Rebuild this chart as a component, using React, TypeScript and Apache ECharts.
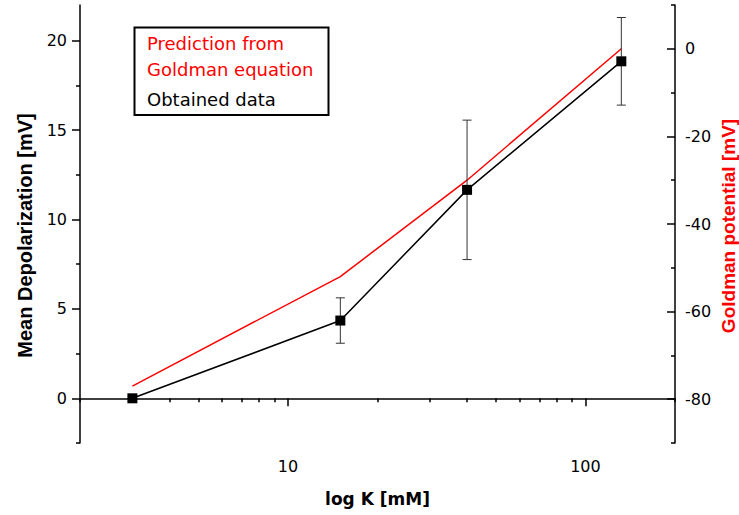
import React, { useEffect, useRef } from "react";
import * as echarts from "echarts";

// ---- data ----
const concentrations = [3, 15, 40, 132]; // K [mM]
const meanDepolarization = [0, 4.35, 11.66, 18.85]; // mV (left axis)
const depolarizationSD = [0, 1.27, 3.9, 2.45]; // mV error bars
const goldmanPotential = [-77, -52, -30, 0]; // mV (right axis)

const xMajorTicks = [10, 100];
const xMinorTicks = [2, 3, 4, 5, 6, 7, 8, 9, 20, 30, 40, 50, 60, 70, 80, 90, 200];
const leftMajorTicks = [0, 5, 10, 15, 20];
const leftMinorTicks = [-2.5, 2.5, 7.5, 12.5, 17.5];
const rightMajorTicks = [-80, -60, -40, -20, 0];
const rightMinorTicks = [-90, -70, -50, -30, -10, 10];

const X_MIN = 2;
const X_MAX = 200;
const LEFT_MIN = -2.5;
const LEFT_MAX = 22;
const RIGHT_MIN = -90;
const RIGHT_MAX = 10;

const legendLines = [
  { text: "Prediction from", color: "#ff0000" },
  { text: "Goldman equation", color: "#ff0000" },
  { text: "Obtained data", color: "#000000" },
];

const FONT = "DejaVu Sans";
const AXIS_LINE = { color: "#000", width: 1.5 };

export default function App() {
  const ref = useRef<HTMLDivElement>(null);

  useEffect(() => {
    if (!ref.current) return;
    const chart = echarts.init(ref.current, undefined, { renderer: "svg" });
    const lg = Math.log10;
    const xMin = lg(X_MIN);
    const xMax = lg(X_MAX);

    const blackData = concentrations.map((c, i) => [lg(c), meanDepolarization[i]]);
    const redData = concentrations.map((c, i) => [lg(c), goldmanPotential[i]]);
    const errData = concentrations
      .map((c, i) => [lg(c), meanDepolarization[i] - depolarizationSD[i], meanDepolarization[i] + depolarizationSD[i]])
      .filter((d, i) => depolarizationSD[i] > 0);

    const labelStyle = { color: "#000", fontFamily: FONT, fontSize: 16 };

    const option: any = {
      animation: false,
      backgroundColor: "#fff",
      grid: { left: 80, top: 5, width: 595, height: 438, containLabel: false },
      xAxis: [
        {
          type: "value",
          position: "bottom",
          min: xMin,
          max: xMax,
          axisLine: { show: true, lineStyle: AXIS_LINE },
          axisTick: { show: true, customValues: xMajorTicks.map(lg), length: 8, lineStyle: AXIS_LINE },
          axisLabel: {
            customValues: xMajorTicks.map(lg),
            formatter: (v: number) => String(Math.round(Math.pow(10, v))),
            margin: 15,
            ...labelStyle,
          },
          splitLine: { show: false },
          name: "log K [mM]",
          nameLocation: "middle",
          nameGap: 47,
          nameTextStyle: { color: "#000", fontFamily: FONT, fontSize: 17, fontWeight: "bold" },
        },
        {
          type: "value",
          position: "bottom",
          min: xMin,
          max: xMax,
          axisLine: { show: false },
          axisTick: { show: true, customValues: xMinorTicks.map(lg), length: 4, lineStyle: AXIS_LINE },
          axisLabel: { show: false },
          splitLine: { show: false },
        },
      ],
      yAxis: [
        {
          type: "value",
          position: "left",
          min: LEFT_MIN,
          max: LEFT_MAX,
          axisLine: { show: true, lineStyle: AXIS_LINE },
          axisTick: { show: true, customValues: leftMajorTicks, length: 8, lineStyle: AXIS_LINE },
          axisLabel: { customValues: leftMajorTicks, margin: 13, ...labelStyle },
          splitLine: { show: false },
        },
        {
          type: "value",
          position: "left",
          min: LEFT_MIN,
          max: LEFT_MAX,
          axisLine: { show: false },
          axisTick: { show: true, customValues: leftMinorTicks, length: 4, lineStyle: AXIS_LINE },
          axisLabel: { show: false },
          splitLine: { show: false },
        },
        {
          type: "value",
          position: "right",
          min: RIGHT_MIN,
          max: RIGHT_MAX,
          axisLine: { show: true, lineStyle: AXIS_LINE },
          axisTick: { show: true, inside: true, customValues: rightMajorTicks, length: 8, lineStyle: AXIS_LINE },
          axisLabel: { customValues: rightMajorTicks, margin: 10, ...labelStyle },
          splitLine: { show: false },
        },
        {
          type: "value",
          position: "right",
          min: RIGHT_MIN,
          max: RIGHT_MAX,
          axisLine: { show: false },
          axisTick: { show: true, inside: true, customValues: rightMinorTicks, length: 4, lineStyle: AXIS_LINE },
          axisLabel: { show: false },
          splitLine: { show: false },
        },
      ],
      series: [
        {
          name: "Prediction from Goldman equation",
          type: "line",
          xAxisIndex: 0,
          yAxisIndex: 2,
          data: redData,
          showSymbol: false,
          symbol: "none",
          lineStyle: { color: "#ff0000", width: 1.5 },
          z: 2,
        },
        {
          name: "Error",
          type: "custom",
          xAxisIndex: 0,
          yAxisIndex: 0,
          data: errData,
          encode: { x: 0, y: [1, 2] },
          z: 3,
          renderItem: (params: any, api: any) => {
            const x = api.value(0);
            const lo = api.coord([x, api.value(1)]);
            const hi = api.coord([x, api.value(2)]);
            const w = 4.5;
            const st = { stroke: "#333", lineWidth: 1 };
            return {
              type: "group",
              children: [
                { type: "line", shape: { x1: lo[0], y1: lo[1], x2: hi[0], y2: hi[1] }, style: st },
                { type: "line", shape: { x1: hi[0] - w, y1: hi[1], x2: hi[0] + w, y2: hi[1] }, style: st },
                { type: "line", shape: { x1: lo[0] - w, y1: lo[1], x2: lo[0] + w, y2: lo[1] }, style: st },
              ],
            };
          },
        },
        {
          name: "Obtained data",
          type: "line",
          xAxisIndex: 0,
          yAxisIndex: 0,
          data: blackData,
          symbol: "rect",
          symbolSize: 10,
          itemStyle: { color: "#000" },
          lineStyle: { color: "#000", width: 1.5 },
          z: 4,
        },
      ],
      graphic: [
        {
          type: "rect",
          shape: { x: 134.5, y: 27.5, width: 194, height: 87.5 },
          style: { fill: "#fff", stroke: "#000", lineWidth: 2 },
          z: 10,
        },
        ...legendLines.map((l, i) => ({
          type: "text",
          x: 147,
          y: [43.5, 69, 99.5][i],
          z: 11,
          style: {
            text: l.text,
            fill: l.color,
            font: `18px "${FONT}"`,
            align: "left",
            verticalAlign: "middle",
          },
        })),
        {
          type: "text",
          x: 24.5,
          y: 235.5,
          rotation: Math.PI / 2,
          style: {
            text: "Mean Depolarization [mV]",
            fill: "#000",
            font: 'bold 20px "Liberation Sans"',
            align: "center",
            verticalAlign: "middle",
          },
        },
        {
          type: "text",
          x: 728,
          y: 226,
          rotation: Math.PI / 2,
          style: {
            text: "Goldman potential [mV]",
            fill: "#ff0000",
            font: 'bold 19px "Liberation Sans"',
            align: "center",
            verticalAlign: "middle",
          },
        },
      ],
    };

    chart.setOption(option);
    return () => chart.dispose();
  }, []);

  return <div ref={ref} style={{ width: 739, height: 515, position: "absolute", left: 0, top: 0 }} />;
}
